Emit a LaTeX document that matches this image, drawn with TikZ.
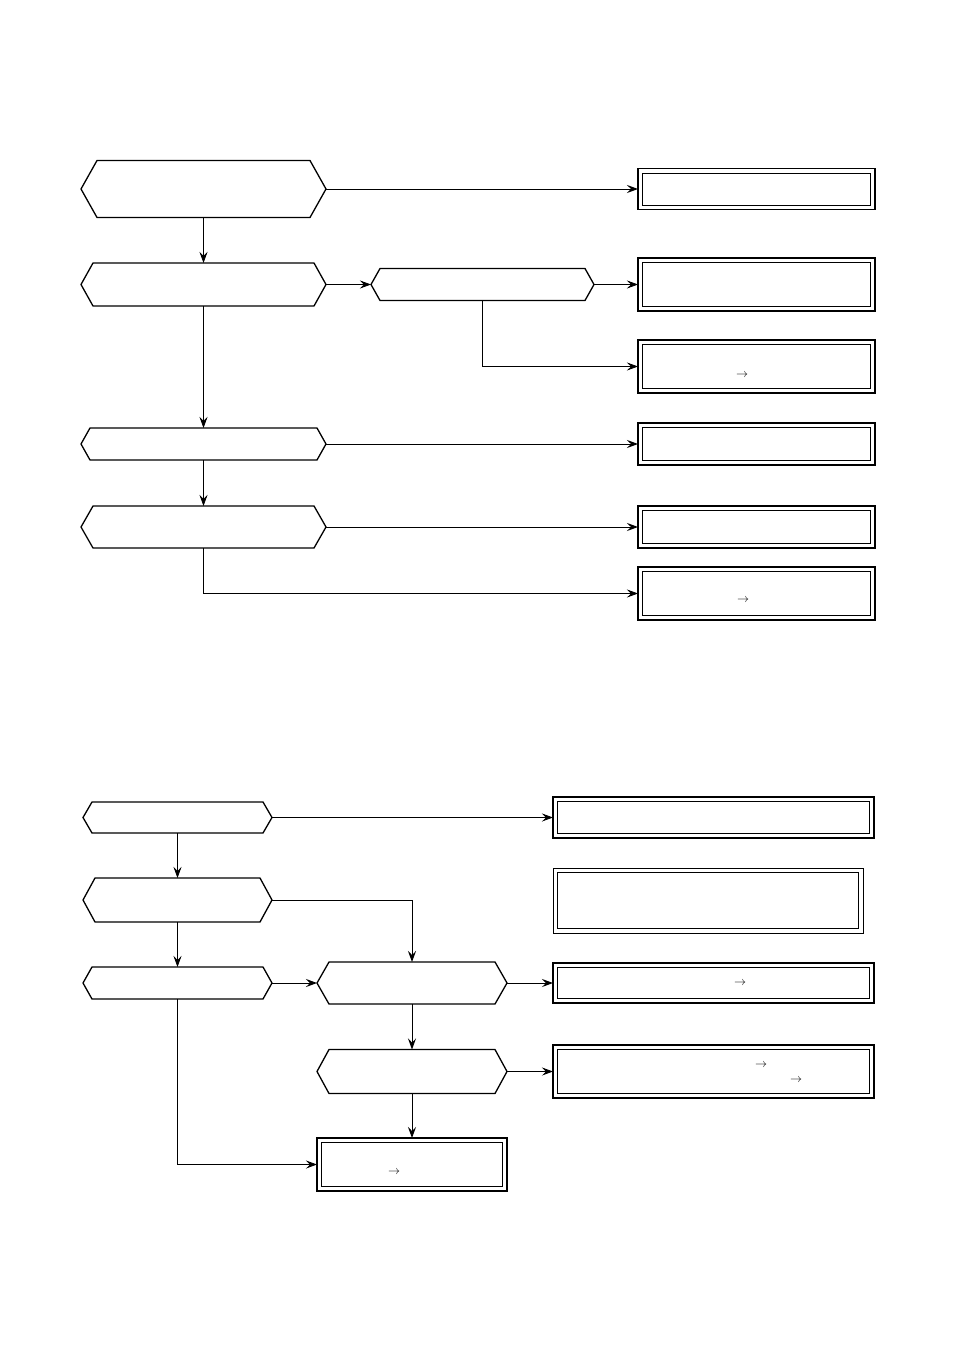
\documentclass[tikz,border=0pt]{standalone}
\usetikzlibrary{arrows.meta}
\tikzset{
  hexline/.style={line width=1.3pt, line join=miter},
  conn/.style={line width=0.9pt, -{Stealth[length=11pt,width=8pt,inset=4pt]}},
  plain/.style={line width=0.9pt},
  outerbox/.style={draw, line width=1.9pt, inner sep=0pt, outer sep=0pt},
  thinouter/.style={draw, line width=0.9pt, inner sep=0pt, outer sep=0pt},
  innerbox/.style={line width=0.9pt},
  sym/.style={inner sep=0pt, font=\large}
}
% name, cx, cy, half width, half height, slant
\newcommand\hexn[6]{%
  \node[minimum width={2*#4}, minimum height={2*#5}, inner sep=0pt, outer sep=0pt] (#1) at (#2,#3) {};
  \draw[hexline] (#2-#4,#3) -- (#2-#4+#6,#3-#5) -- (#2+#4-#6,#3-#5) -- (#2+#4,#3)
     -- (#2+#4-#6,#3+#5) -- (#2-#4+#6,#3+#5) -- cycle;}
% name, cx, cy, half width, half height, outer style
\newcommand\boxn[6]{%
  \node[#6, minimum width={2*#4}, minimum height={2*#5}] (#1) at (#2,#3) {};
  \draw[innerbox] (#2-#4+4.5,#3-#5+4.5) rectangle (#2+#4-4.5,#3+#5-4.5);}
\begin{document}
\begin{tikzpicture}[x=1pt,y=-1pt]
\useasboundingbox[fill=white] (0,0) rectangle (954,1348);
% ---------- top diagram ----------
\hexn{H1}{203.5}{189}{122.5}{28.5}{16}
\hexn{H2}{203.5}{284.5}{122.5}{21.5}{12}
\hexn{H3}{482.5}{284.5}{111.5}{16}{9}
\hexn{H4}{203.5}{444}{122.5}{16}{9}
\hexn{H5}{203.5}{527}{122.5}{21}{12}
\boxn{R1}{756.5}{189}{118.5}{20.5}{outerbox}
\boxn{R2}{756.5}{284.5}{118.5}{26.5}{outerbox}
\boxn{R3}{756.5}{366.5}{118.5}{26.5}{outerbox}
\boxn{R4}{756.5}{444}{118.5}{21}{outerbox}
\boxn{R5}{756.5}{527}{118.5}{21}{outerbox}
\boxn{R6}{756.5}{593.5}{118.5}{26.5}{outerbox}
\node[sym] (a1) at (742,375) {$\rightarrow$};
\node[sym] (a2) at (743,600) {$\rightarrow$};
\draw[conn] (H1.east) -- (R1.west);
\draw[conn] (H1.south) -- (H2.north);
\draw[conn] (H2.east) -- (H3.west);
\draw[conn] (H3.east) -- (R2.west);
\draw[conn] (H3.south) |- (R3.west);
\draw[conn] (H2.south) -- (H4.north);
\draw[conn] (H4.east) -- (R4.west);
\draw[conn] (H4.south) -- (H5.north);
\draw[conn] (H5.east) -- (R5.west);
\draw[conn] (H5.south) |- (R6.west);
% ---------- bottom diagram ----------
\hexn{B1}{177.5}{817.5}{94.5}{15.5}{9}
\hexn{B2}{177.5}{900}{94.5}{22}{12}
\hexn{B3}{177.5}{983}{94.5}{16}{9}
\hexn{B4}{412}{983}{95}{21}{12}
\hexn{B5}{412}{1071.5}{95}{22}{12}
\boxn{S1}{713.5}{817.5}{160.5}{20.5}{outerbox}
\boxn{S2}{708}{900.5}{155}{32.5}{thinouter}
\boxn{S3}{713.5}{983}{160.5}{20}{outerbox}
\boxn{S4}{713.5}{1071.5}{160.5}{26.5}{outerbox}
\boxn{S5}{412}{1164.5}{95}{26.5}{outerbox}
\node[sym] (a3) at (740,983) {$\rightarrow$};
\node[sym] (a4) at (761,1065) {$\rightarrow$};
\node[sym] (a5) at (796,1080) {$\rightarrow$};
\node[sym] (a6) at (394,1172) {$\rightarrow$};
\draw[conn] (B1.east) -- (S1.west);
\draw[conn] (B1.south) -- (B2.north);
\draw[conn] (B2.east) -| (B4.north);
\draw[conn] (B2.south) -- (B3.north);
\draw[conn] (B3.east) -- (B4.west);
\draw[conn] (B4.east) -- (S3.west);
\draw[conn] (B4.south) -- (B5.north);
\draw[conn] (B5.east) -- (S4.west);
\draw[conn] (B5.south) -- (S5.north);
\draw[conn] (B3.south) |- (S5.west);
\end{tikzpicture}
\end{document}
